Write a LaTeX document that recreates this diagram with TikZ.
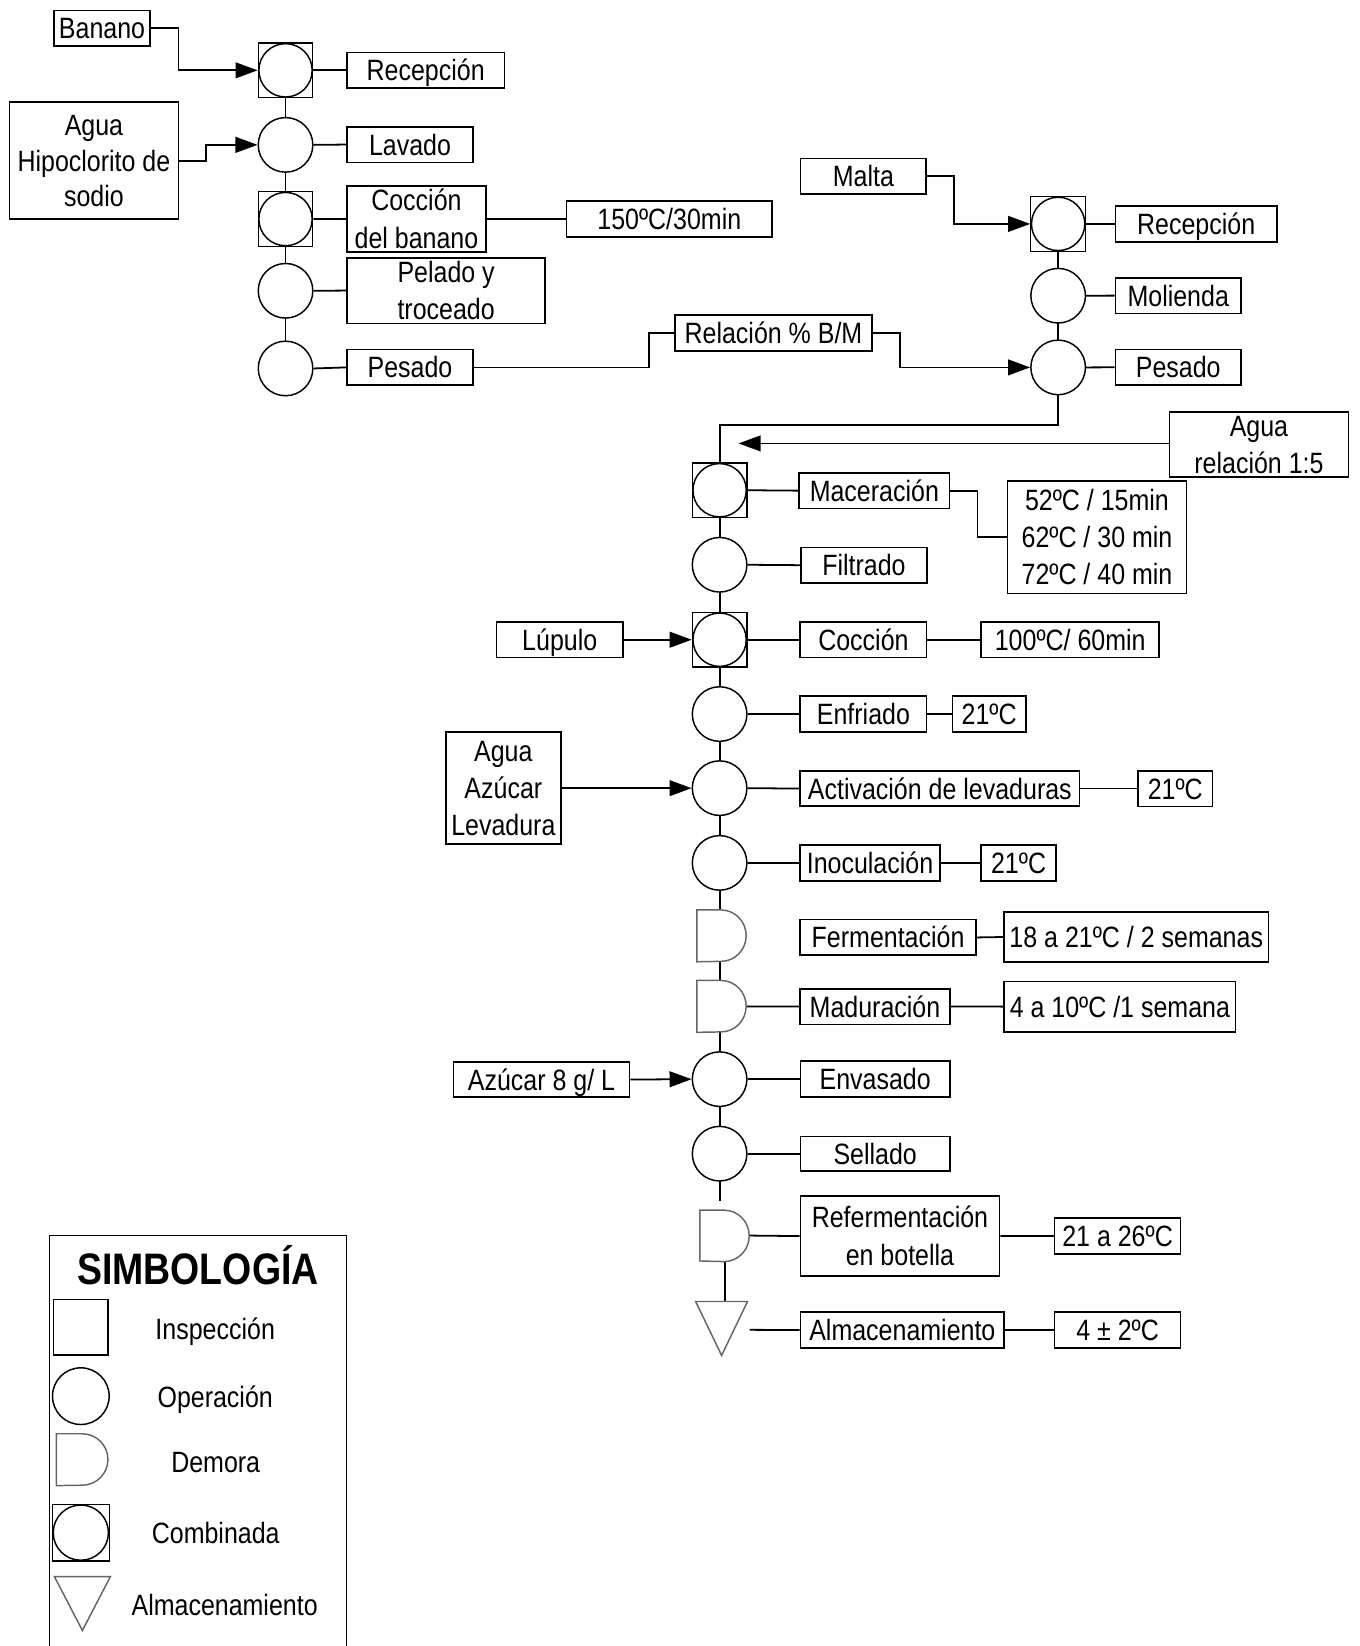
\documentclass[tikz,border=0pt]{standalone}
\usepackage{fontspec}
\setmainfont{Liberation Sans}[FakeStretch=0.85]
\usetikzlibrary{arrows.meta,backgrounds,calc}
\pgfdeclarelayer{paper}
\pgfsetlayers{paper,background,main}
\tikzset{
  conn/.style={line width=1.7pt},
  arr/.style={conn,-{Triangle[length=21pt,width=15pt]}},
  box/.style={draw, line width=1.6pt, inner sep=0pt, align=center, text height=20pt, text depth=0pt},
  boxtwo/.style={box, text height=55.5pt},
  boxthree/.style={box, text height=91pt},
  op/.style={circle, draw, fill=white, line width=1.4pt, minimum size=52pt, inner sep=0pt},
  comb/.style={rectangle, draw, fill=white, line width=1.2pt, minimum size=52pt, inner sep=0pt,
    path picture={\draw[line width=1.4pt] (path picture bounding box.center) circle[radius=25.4pt];}},
  slot/.style={rectangle, inner sep=0pt},
  dshape/.style={draw=black!60, fill=white, line width=1.4pt},
  lbl/.style={inner sep=0pt, text height=20pt, text depth=0pt}
}
\newcommand{\demora}[1]{\draw[dshape] (#1.south west) -- (#1.north west) -- ($(#1.north west)+(23,0)$) arc[start angle=90, end angle=-90, x radius=24pt, y radius=24.5pt] -- cycle;}
\newcommand{\almac}[1]{\draw[dshape] (#1.north west) -- (#1.north east) -- (#1.south) -- cycle;}
\begin{document}
\begin{tikzpicture}[x=1pt,y=-1pt,font=\fontsize{28}{35.5}\selectfont]
\begin{pgfonlayer}{paper}
\fill[white] (0,0) rectangle (1295,1568);
\end{pgfonlayer}
\useasboundingbox (0,0) rectangle (1295,1568);

% ---------- left column (banano)
\node[comb] (lrec) at (272,67) {};
\node[op] (llav) at (272,138) {};
\node[comb] (lcoc) at (272,208.7) {};
\node[op] (lpel) at (272,277) {};
\node[op] (lpes) at (272,351) {};

\node[box, minimum width=92pt, minimum height=34pt] (banano) at (97.2,27) {Banano};
\node[box, minimum width=150pt, minimum height=34pt] (lrecbox) at (405.5,67) {Recepción};
\node[box, minimum width=120pt, minimum height=34pt] (lavbox) at (390.6,137.7) {Lavado};
\node[boxthree, minimum width=161pt, minimum height=111.5pt, font=\fontsize{28}{34}\selectfont, text height=88pt] (agua1) at (89.5,153) {Agua\\Hipoclorito de\\sodio};
\node[boxtwo, minimum width=132pt, minimum height=62.6pt] (lcocbox) at (396.7,208.5) {Cocción\\del banano};
\node[box, minimum width=196pt, minimum height=34pt] (t150) at (637.6,208.5) {150ºC/30min};
\node[boxtwo, minimum width=188.7pt, minimum height=62.6pt] (lpelbox) at (425,276.8) {Pelado y\\troceado};
\node[box, minimum width=120pt, minimum height=34pt] (lpesbox) at (390.6,350) {Pesado};
\node[box, minimum width=188pt, minimum height=34pt] (rel) at (736.8,317.2) {Relación \% B/M};

% ---------- right column (malta)
\node[comb] (rrec) at (1008,213.3) {};
\node[op] (rmol) at (1008,281.7) {};
\node[op] (rpes) at (1008,350) {};
\node[box, minimum width=119.7pt, minimum height=34pt] (malta) at (822.5,167.9) {Malta};
\node[box, minimum width=154pt, minimum height=34pt] (rrecbox) at (1139.5,213.3) {Recepción};
\node[box, minimum width=119.7pt, minimum height=34pt] (rmolbox) at (1122.4,281.6) {Molienda};
\node[box, minimum width=119.7pt, minimum height=34pt] (rpesbox) at (1122.4,349.9) {Pesado};
\node[boxtwo, minimum width=170.6pt, minimum height=62pt] (agua2) at (1199.3,423.3) {Agua\\relación 1:5};
\coordinate (aguatip) at (703.6,422.4);

% ---------- main column
\node[comb] (mac) at (685.5,467) {};
\node[op] (fil) at (685.5,538) {};
\node[comb] (coc) at (685.5,609.4) {};
\node[op] (enf) at (685.5,680.2) {};
\node[op] (act) at (685.5,750.8) {};
\node[op] (ino) at (685.5,822) {};
\node[slot, minimum width=47pt, minimum height=49pt] (fer) at (687.5,891.5) {};
\node[slot, minimum width=47pt, minimum height=49pt] (mad) at (687.5,958.7) {};
\node[op] (env) at (685.5,1028) {};
\node[op] (sel) at (685.5,1099) {};
\coordinate (selend) at (685.5,1143.6);
\node[slot, minimum width=47pt, minimum height=48pt] (ref) at (690.4,1177) {};
\node[slot, minimum width=49pt, minimum height=51pt] (alm) at (687.4,1265.5) {};

\node[box, minimum width=143pt, minimum height=34pt] (macbox) at (832.9,467.4) {Maceración};
\node[boxthree, minimum width=170.3pt, minimum height=107.4pt] (tmac) at (1045,511.7) {52ºC / 15min\\62ºC / 30 min\\72ºC / 40 min};
\node[box, minimum width=120pt, minimum height=33.6pt] (filbox) at (823,538.4) {Filtrado};
\node[box, minimum width=120.3pt, minimum height=34pt] (lup) at (533.2,609.4) {Lúpulo};
\node[box, minimum width=120.4pt, minimum height=34pt] (cocbox) at (822.5,609.4) {Cocción};
\node[box, minimum width=169.6pt, minimum height=34pt] (t100) at (1019.5,609.4) {100ºC/ 60min};
\node[box, minimum width=120.4pt, minimum height=34pt] (enfbox) at (822.5,680.2) {Enfriado};
\node[box, minimum width=70pt, minimum height=34pt] (t21a) at (942.3,680.2) {21ºC};
\node[boxthree, minimum width=109.4pt, minimum height=107pt] (agua3) at (479.5,750.8) {Agua\\Azúcar\\Levadura};
\node[box, minimum width=266pt, minimum height=33.7pt] (actbox) at (895.3,751.2) {Activación de levaduras};
\node[box, minimum width=71pt, minimum height=34pt] (t21b) at (1119.6,751.2) {21ºC};
\node[box, minimum width=133pt, minimum height=34pt] (inobox) at (828.8,822.2) {Inoculación};
\node[box, minimum width=71pt, minimum height=34pt] (t21c) at (970.3,822.2) {21ºC};
\node[box, minimum width=167.5pt, minimum height=34pt] (ferbox) at (846,893) {Fermentación};
\node[box, minimum width=251.7pt, minimum height=47.6pt] (tfer) at (1082.4,892.6) {18 a 21ºC / 2 semanas};
\node[box, minimum width=142.3pt, minimum height=34pt] (madbox) at (833.5,958.8) {Maduración};
\node[box, minimum width=220.5pt, minimum height=48pt] (tmad) at (1066.8,958.9) {4 a 10ºC /1 semana};
\node[box, minimum width=167.7pt, minimum height=33.3pt] (azu) at (515.8,1028.4) {Azúcar 8 g/ L};
\node[box, minimum width=142.4pt, minimum height=34pt] (envbox) at (833.7,1028) {Envasado};
\node[box, minimum width=142.4pt, minimum height=33pt] (selbox) at (833.7,1099) {Sellado};
\node[boxtwo, minimum width=189.6pt, minimum height=76pt] (refbox) at (857.3,1177.5) {Refermentación\\en botella};
\node[box, minimum width=120pt, minimum height=34pt] (t2126) at (1064.6,1177.3) {21 a 26ºC};
\node[box, minimum width=194.2pt, minimum height=34pt] (almbox) at (859.6,1267) {Almacenamiento};
\node[box, minimum width=120pt, minimum height=34pt] (t42) at (1064.6,1267) {4 ± 2ºC};

% ---------- shapes drawn over lines
\demora{fer}
\demora{mad}
\demora{ref}
\almac{alm}

% ---------- connectors
\begin{pgfonlayer}{background}
\draw[conn] (lrec.center) -- (lpes.center);
\draw[arr] (banano.east) -- ++(26,0) |- (lrec.west);
\draw[arr] (agua1.east) -- ++(25.2,0) |- (llav.west);
\draw[conn] (lrec.east) -- (lrecbox.west);
\draw[conn] (llav.east) -- (lavbox.west);
\draw[conn] (lcoc.east) -- (lcocbox.west);
\draw[conn] (lcocbox.east) -- (t150.west);
\draw[conn] (lpel.east) -- (lpelbox.west);
\draw[conn] (lpes.east) -- (lpesbox.west);
\draw[conn] (lpesbox.east) -- ++(167,0) |- (rel.west);
\draw[arr] (rel.east) -- ++(25.5,0) |- (rpes.west);

\draw[conn] (rrec.center) -- (rpes.center);
\draw[arr] (malta.east) -- ++(25.6,0) |- (rrec.west);
\draw[conn] (rrec.east) -- (rrecbox.west);
\draw[conn] (rmol.east) -- (rmolbox.west);
\draw[conn] (rpes.east) -- (rpesbox.west);
\draw[conn] (rpes.south) -- ++(0,28) -| (mac.north);
\draw[arr] (agua2.west |- aguatip) -- (aguatip);

\draw[conn] (mac.north) -- (selend);
\draw[conn] (ref.south) -- (ref.south |- alm.north);
\draw[conn] (mac.east) -- (macbox.west);
\draw[conn] (macbox.east) -- ++(26,0) |- (tmac.west);
\draw[conn] (fil.east) -- (filbox.west);
\draw[arr] (lup.east) -- (coc.west);
\draw[conn] (coc.east) -- (cocbox.west);
\draw[conn] (cocbox.east) -- (t100.west);
\draw[conn] (enf.east) -- (enfbox.west);
\draw[conn] (enfbox.east) -- (t21a.west);
\draw[arr] (agua3.east) -- (act.west);
\draw[conn] (act.east) -- (actbox.west);
\draw[conn] (actbox.east) -- (t21b.west);
\draw[conn] (ino.east) -- (inobox.west);
\draw[conn] (inobox.east) -- (t21c.west);
\draw[conn] (ferbox.east) -- (tfer.west);
\draw[conn] (mad.east) -- (madbox.west);
\draw[conn] (madbox.east) -- (tmad.west);
\draw[arr] (azu.east) -- (env.west);
\draw[conn] (env.east) -- (envbox.west);
\draw[conn] (sel.east) -- (selbox.west);
\draw[conn] (ref.east) -- (refbox.west);
\draw[conn] (refbox.east) -- (t2126.west);
\draw[conn] ($(alm.east)+(2,1.3)$) -- (almbox.west);
\draw[conn] (almbox.east) -- (t42.west);
\end{pgfonlayer}

% ---------- legend
\draw[line width=1.5pt] (47,1600) -- (47,1177) -- (330,1177) -- (330,1600);
\node[lbl, font=\fontsize{42}{50}\selectfont\bfseries, text height=30pt] (legtitle) at (188.5,1209) {SIMBOLOGÍA};
\node[draw, line width=1.5pt, minimum width=52pt, minimum height=53pt, inner sep=0pt] (leg1) at (77,1264.5) {};
\node[op, minimum size=54pt] (leg2) at (77,1330) {};
\node[slot, minimum width=49pt, minimum height=49pt] (leg3) at (78.5,1390.5) {};
\draw[dshape] (leg3.south west) -- (leg3.north west) -- ($(leg3.north west)+(24.5,0)$) arc[start angle=90, end angle=-90, x radius=24.5pt, y radius=24.5pt] -- cycle;
\node[comb, minimum size=54pt, path picture={\draw[line width=1.4pt] (path picture bounding box.center) circle[radius=26.3pt];}] (leg4) at (77,1460) {};
\node[slot, minimum width=53pt, minimum height=51pt] (leg5) at (78.5,1527.5) {};
\almac{leg5}
\node[lbl] (legt1) at (205,1266) {Inspección};
\node[lbl] (legt2) at (205,1331) {Operación};
\node[lbl] (legt3) at (205.5,1393) {Demora};
\node[lbl] (legt4) at (205.5,1460) {Combinada};
\node[lbl] (legt5) at (214,1528.5) {Almacenamiento};
\end{tikzpicture}
\end{document}
